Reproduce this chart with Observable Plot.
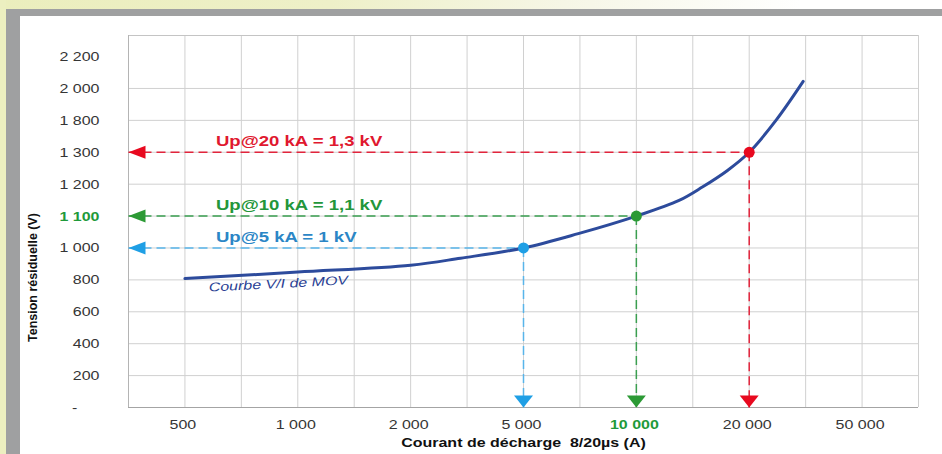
<!DOCTYPE html>
<html><head><meta charset="utf-8">
<script src="https://cdn.jsdelivr.net/npm/d3@7"></script>
<script src="https://cdn.jsdelivr.net/npm/@observablehq/plot@0.6"></script>
<style>
html,body{margin:0;padding:0;background:#fff;}
#wrap{position:relative;width:942px;height:454px;overflow:hidden;font-family:"Liberation Sans",Arial,sans-serif;}
#topstrip{position:absolute;left:0;top:0;width:942px;height:9px;background:linear-gradient(90deg,#ebeebd 0%,#eef0c8 35%,#f6f6e6 60%,#fff 85%);}
#leftstrip{position:absolute;left:0;top:0;width:6px;height:454px;background:#ecefc0;}
#frame{position:absolute;left:6px;top:9px;right:0;bottom:0;background:#9fa0a1;}
#inner{position:absolute;left:20px;top:16px;right:0;bottom:0;background:#fff;}
#chart{position:absolute;left:0;top:0;}
</style></head>
<body><div id="wrap"><div id="topstrip"></div><div id="leftstrip"></div><div id="frame"></div><div id="inner"></div><div id="chart"></div></div>
<script>
// ---- data ----
const xTickValues = [500, 1000, 2000, 5000, 10000, 20000, 50000];
const xTickLabels = ["500", "1 000", "2 000", "5 000", "10 000", "20 000", "50 000"];
const yTickValues = [0, 200, 400, 600, 800, 1000, 1100, 1200, 1300, 1800, 2000, 2200];
const yTickLabels = ["-", "200", "400", "600", "800", "1 000", "1 100", "1 200", "1 300", "1 800", "2 000", "2 200"];
const curveCurrent = [500, 1000, 2000, 3000, 5000, 7000, 10000, 13000, 15000, 17500, 20000, 25000, 31000];
const curveVoltage = [808, 849, 892, 936, 1000, 1045, 1100, 1149, 1191, 1243, 1300, 1806, 2044];
const upCurrent = [5000, 10000, 20000];
const upVoltage = [1000, 1100, 1300];
const upLabels = ["Up@5 kA = 1 kV", "Up@10 kA = 1,1 kV", "Up@20 kA = 1,3 kV"];
const highlightCurrent = 10000;
const highlightVoltage = 1100;
const curveLabel = "Courbe V/I de MOV";
const xTitle = "Courant de décharge\u00a0 8/20µs (A)";
const yTitle = "Tension résiduelle (V)";

// ---- styles ----
const upStroke = ["#58b5ea", "#3a9f50", "#e2243c"];
const upDot = ["#1f9fe5", "#2c9a35", "#e8091f"];
const upText = ["#2b86c6", "#23963a", "#e0182f"];
const green = "#1f9a3a";
const tickColor = "#353535";
const FONT = "'Liberation Sans', Arial, sans-serif";
const STRETCH = 1.28;

// ---- position mapping (categorical axes with uneven values) ----
const xPos = d3.scaleLinear().domain(xTickValues.map(Math.log10)).range(d3.range(xTickValues.length));
const yPos = d3.scaleLinear().domain(yTickValues).range(d3.range(yTickValues.length));
const px = c => xPos(Math.log10(c));

const curve = curveCurrent.map((c, i) => ({c, v: curveVoltage[i]}));
const ups = upCurrent.map((c, i) => ({c, v: upVoltage[i], label: upLabels[i], k: i}));

const xMin = -0.5, xMax = xTickValues.length - 0.5;
const yMax = 11.66;
const vGrid = d3.range(xMin, xMax + 0.01, 0.5);
const hGrid = d3.range(0, 11);

const leftTri = {draw(ctx) { ctx.moveTo(0, 0); ctx.lineTo(17, -6.5); ctx.lineTo(17, 6.5); ctx.closePath(); }};
const downTri = {draw(ctx) { ctx.moveTo(0, 0); ctx.lineTo(-9.5, -12); ctx.lineTo(9.5, -12); ctx.closePath(); }};

const chart = Plot.plot({
  width: 942, height: 454,
  marginLeft: 128, marginRight: 24, marginTop: 35, marginBottom: 47,
  x: {domain: [xMin, xMax], axis: null},
  y: {domain: [0, yMax], axis: null},
  color: {type: "identity"},
  style: {background: "transparent", fontFamily: FONT},
  marks: [
    Plot.ruleX(vGrid, {stroke: "#d0d0d0"}),
    Plot.ruleY(hGrid, {stroke: "#d0d0d0"}),
    Plot.ruleY([yMax], {stroke: "#c4c4c4"}),
    Plot.ruleX([xMin], {stroke: "#b4b4b4"}),
    Plot.ruleY([0], {stroke: "#a4a4a4"}),
    // dashed guides
    Plot.link(ups, {x1: xMin, x2: d => px(d.c), y1: d => yPos(d.v), y2: d => yPos(d.v),
      stroke: d => upStroke[d.k], strokeWidth: 1.5, strokeDasharray: "9,5"}),
    Plot.link(ups, {x1: d => px(d.c), x2: d => px(d.c), y1: d => yPos(d.v), y2: 0,
      stroke: d => upStroke[d.k], strokeWidth: 1.5, strokeDasharray: "9,5"}),
    // curve
    Plot.line(curve, {x: d => px(d.c), y: d => yPos(d.v), stroke: "#2d4b9c", strokeWidth: 3, curve: "catmull-rom"}),
    // arrow heads
    Plot.dot(ups, {x: xMin, y: d => yPos(d.v), symbol: leftTri, fill: d => upDot[d.k], stroke: "none"}),
    Plot.dot(ups, {x: d => px(d.c), y: 0, symbol: downTri, fill: d => upDot[d.k], stroke: "none"}),
    // points
    Plot.dot(ups, {x: d => px(d.c), y: d => yPos(d.v), r: 5.5, fill: d => upDot[d.k], stroke: "none"}),
    // annotations
    Plot.text(ups, {x: px(xTickValues[0]), y: d => yPos(d.v), dx: 31, dy: -6, text: d => d.label,
      textAnchor: "start", fill: d => upText[d.k], fontSize: 14.5, fontWeight: "bold"}),
    Plot.text([curveLabel], {x: px(curveCurrent[0]), y: yPos(curveVoltage[0]), dx: 24, dy: 13, rotate: -3,
      text: d => d, textAnchor: "start", fontStyle: "italic", fontSize: 12.5, fill: "#2a3f94"}),
    // x tick labels
    Plot.text(xTickValues.filter(d => d !== highlightCurrent), {x: d => px(d), frameAnchor: "bottom", dx: -2, dy: 21,
      text: d => xTickLabels[xTickValues.indexOf(d)], fill: tickColor, fontSize: 12.5}),
    Plot.text(xTickValues.filter(d => d === highlightCurrent), {x: d => px(d), frameAnchor: "bottom", dx: -2, dy: 21,
      text: d => xTickLabels[xTickValues.indexOf(d)], fill: green, fontSize: 12.5, fontWeight: "bold"}),
    // y tick labels
    Plot.text(yTickValues.filter(d => d !== highlightVoltage), {y: d => yPos(d), frameAnchor: "left", dx: -29, dy: 4.5, textAnchor: "end",
      text: d => { const s = yTickLabels[yTickValues.indexOf(d)]; return s === "-" ? "-\u00a0\u00a0\u00a0\u00a0\u00a0" : s; },
      fill: tickColor, fontSize: 12.5}),
    Plot.text(yTickValues.filter(d => d === highlightVoltage), {y: d => yPos(d), frameAnchor: "left", dx: -29, dy: 4.5, textAnchor: "end",
      text: d => yTickLabels[yTickValues.indexOf(d)], fill: green, fontSize: 12.5, fontWeight: "bold"}),
    // titles
    Plot.text([xTitle], {frameAnchor: "bottom", dy: 39, text: d => d, fontWeight: "bold", fontSize: 12.5, fill: "#111"}),
    Plot.text([yTitle], {frameAnchor: "bottom-left", dx: -92, dy: -130, rotate: -90, textAnchor: "middle", text: d => d,
      fontWeight: "bold", fontSize: 12.5, fill: "#111"})
  ]
});

// the reference's lettering is horizontally widened; reproduce that on horizontal texts
chart.querySelectorAll("text").forEach(t => {
  if (t.textContent === yTitle) return;
  const tr = t.getAttribute("transform") || "";
  const x = t.getAttribute("x"), y = t.getAttribute("y");
  let extra = "";
  if (x != null || y != null) {
    extra = ` translate(${+x || 0},${+y || 0})`;
    t.removeAttribute("x"); t.removeAttribute("y");
  }
  t.setAttribute("transform", `${tr}${extra} scale(${STRETCH},1)`);
});
document.getElementById("chart").appendChild(chart);
</script>
</body></html>
